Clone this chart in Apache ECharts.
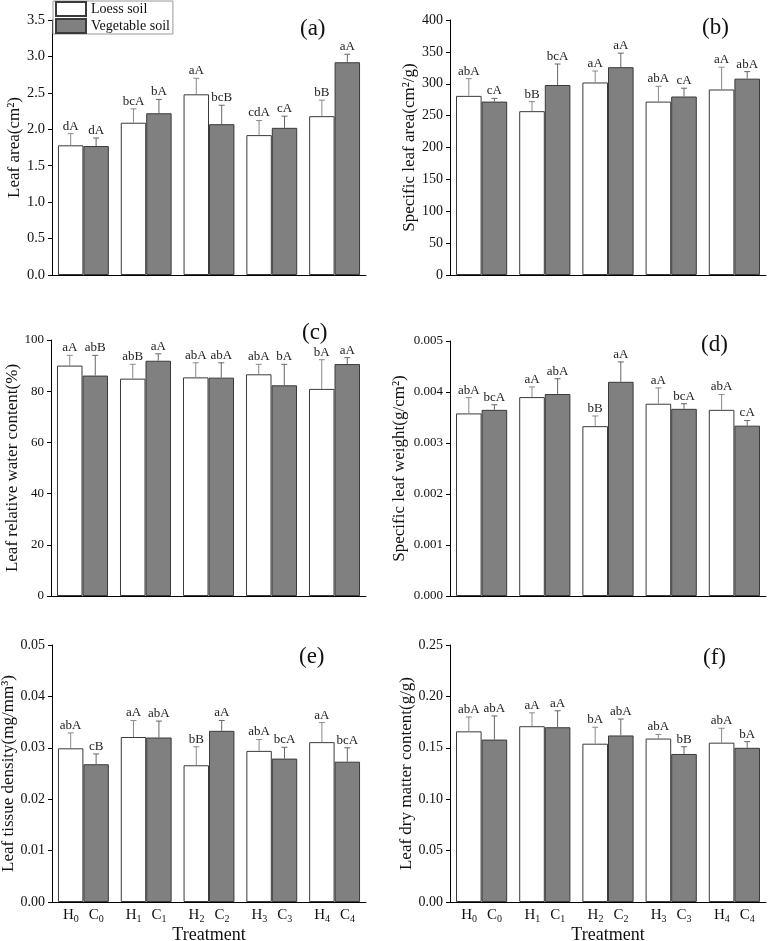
<!DOCTYPE html>
<html>
<head>
<meta charset="utf-8">
<script src="https://cdn.jsdelivr.net/npm/echarts@6/dist/echarts.min.js"></script>
<style>
  html, body { margin: 0; padding: 0; background: #fff; }
  #chart { width: 768px; height: 941px; }
</style>
</head>
<body>
<div id="chart"></div>
<script>
// treatment index (subscript of H / C)
const treatments = ['0', '1', '2', '3', '4']
const soils = ['Loess soil', 'Vegetable soil']

// (a) leaf area
const laLoess = [1.78, 2.09, 2.48, 1.92, 2.18]
const laLoessErr = [0.16, 0.19, 0.22, 0.20, 0.22]
const laLoessSig = ['dA', 'bcA', 'aA', 'cdA', 'bB']
const laVeg = [1.77, 2.22, 2.07, 2.02, 2.92]
const laVegErr = [0.11, 0.19, 0.26, 0.16, 0.11]
const laVegSig = ['dA', 'bA', 'bcB', 'cA', 'aA']

// (b) specific leaf area
const slaLoess = [281, 257, 302, 272, 291]
const slaLoessErr = [27, 15, 18, 24, 35]
const slaLoessSig = ['abA', 'bB', 'aA', 'abA', 'aA']
const slaVeg = [272, 298, 326, 280, 308]
const slaVegErr = [5, 33, 22, 13, 11]
const slaVegSig = ['cA', 'bcA', 'aA', 'cA', 'abA']

// (c) leaf relative water content
const rwcLoess = [90.0, 84.9, 85.4, 86.6, 80.9]
const rwcLoessErr = [4.0, 5.6, 5.7, 3.9, 11.4]
const rwcLoessSig = ['aA', 'abB', 'abA', 'abA', 'bA']
const rwcVeg = [86.1, 91.9, 85.3, 82.3, 90.6]
const rwcVegErr = [7.9, 2.7, 5.8, 8.2, 2.5]
const rwcVegSig = ['abB', 'aA', 'abA', 'bA', 'aA']

// (d) specific leaf weight
const slwLoess = [0.00358, 0.00390, 0.00333, 0.00377, 0.00365]
const slwLoessErr = [0.00031, 0.00020, 0.00020, 0.00031, 0.00030]
const slwLoessSig = ['abA', 'aA', 'bB', 'aA', 'abA']
const slwVeg = [0.00365, 0.00396, 0.00420, 0.00367, 0.00334]
const slwVegErr = [0.00010, 0.00030, 0.00039, 0.00010, 0.00010]
const slwVegSig = ['bcA', 'abA', 'aA', 'bcA', 'cA']

// (e) leaf tissue density
const ltdLoess = [0.0299, 0.0321, 0.0266, 0.0294, 0.0311]
const ltdLoessErr = [0.0030, 0.0032, 0.0036, 0.0022, 0.0038]
const ltdLoessSig = ['abA', 'aA', 'bB', 'abA', 'aA']
const ltdVeg = [0.0268, 0.0320, 0.0333, 0.0279, 0.0273]
const ltdVegErr = [0.0020, 0.0032, 0.0020, 0.0022, 0.0027]
const ltdVegSig = ['cB', 'abA', 'aA', 'bcA', 'bcA']

// (f) leaf dry matter content
const ldmcLoess = [0.166, 0.171, 0.154, 0.159, 0.155]
const ldmcLoessErr = [0.014, 0.013, 0.016, 0.004, 0.014]
const ldmcLoessSig = ['abA', 'aA', 'bA', 'abA', 'abA']
const ldmcVeg = [0.158, 0.170, 0.162, 0.144, 0.150]
const ldmcVegErr = [0.023, 0.016, 0.016, 0.007, 0.006]
const ldmcVegSig = ['abA', 'aA', 'abA', 'bB', 'bA']

const serif = '"Times New Roman", "Liberation Serif", serif'
const catGap = 0.19

const panels = [
  { tag: '(a)', name: 'Leaf area(cm²)', max: 3.5, step: 0.5, dec: 1, nameGap: 24, fs: 14.5,
    left: 52, top: 20, w: 314, h: 255, lx: 313, ly: 30,
    data: [[laLoess, laLoessErr, laLoessSig], [laVeg, laVegErr, laVegSig]] },
  { tag: '(b)', name: 'Specific leaf area(cm²/g)', max: 400, step: 50, dec: 0, nameGap: 28, fs: 14,
    left: 450, top: 20, w: 316, h: 255, lx: 715, ly: 29,
    data: [[slaLoess, slaLoessErr, slaLoessSig], [slaVeg, slaVegErr, slaVegSig]] },
  { tag: '(c)', name: 'Leaf relative water content(%)', max: 100, step: 20, dec: 0, nameGap: 21, fs: 13,
    left: 51, top: 340, w: 315, h: 256, lx: 315, ly: 334,
    data: [[rwcLoess, rwcLoessErr, rwcLoessSig], [rwcVeg, rwcVegErr, rwcVegSig]] },
  { tag: '(d)', name: 'Specific leaf weight(g/cm²)', max: 0.005, step: 0.001, dec: 3, nameGap: 42, fs: 13,
    left: 450, top: 341, w: 316, h: 255, lx: 714, ly: 346,
    data: [[slwLoess, slwLoessErr, slwLoessSig], [slwVeg, slwVegErr, slwVegSig]] },
  { tag: '(e)', name: 'Leaf tissue density(mg/mm³)', max: 0.05, step: 0.01, dec: 2, nameGap: 31, fs: 14, bottomRow: true,
    left: 52, top: 645, w: 314, h: 257, lx: 312, ly: 658,
    data: [[ltdLoess, ltdLoessErr, ltdLoessSig], [ltdVeg, ltdVegErr, ltdVegSig]] },
  { tag: '(f)', name: 'Leaf dry matter content(g/g)', max: 0.25, step: 0.05, dec: 2, nameGap: 31, fs: 14, bottomRow: true,
    left: 450, top: 645, w: 316, h: 257, lx: 716, ly: 659,
    data: [[ldmcLoess, ldmcLoessErr, ldmcLoessSig], [ldmcVeg, ldmcVegErr, ldmcVegSig]] }
]

const barColors = ['#ffffff', '#808080']
const errColors = ['#8a8a8a', '#666666']

const grid = [], xAxis = [], yAxis = [], series = [], graphic = []

panels.forEach((p, k) => {
  grid.push({ left: p.left, top: p.top, width: p.w, height: p.h, outerBoundsMode: 'none' })
  xAxis.push({
    type: 'category', gridIndex: k, data: treatments,
    axisLine: { lineStyle: { color: '#000', width: 1 } },
    axisTick: { show: false },
    axisLabel: p.bottomRow ? {
      show: true, interval: 0, hideOverlap: false, margin: 4, color: '#111', fontFamily: serif,
      formatter: v => `{n|H}{s|${v}}{g|}{n|C}{s|${v}}`,
      rich: {
        n: { fontSize: 15, lineHeight: 18, fontFamily: serif, color: '#111' },
        s: { fontSize: 10, lineHeight: 10, verticalAlign: 'bottom', fontFamily: serif, color: '#111' },
        g: { width: 10 }
      }
    } : { show: false },
    name: p.bottomRow ? 'Treatment' : '',
    nameLocation: 'middle', nameGap: 24, nameMoveOverlap: false,
    nameTextStyle: { fontSize: 18, fontFamily: serif, color: '#111' }
  })
  yAxis.push({
    type: 'value', gridIndex: k, min: 0, max: p.max, interval: p.step,
    splitLine: { show: false },
    axisLine: { show: true, lineStyle: { color: '#000', width: 1 } },
    axisTick: { show: true, length: 4, lineStyle: { color: '#000' } },
    axisLabel: { fontSize: p.fs, margin: 7, color: '#111', fontFamily: serif,
      formatter: v => v.toFixed(p.dec) },
    name: p.name, nameLocation: 'middle', nameRotate: 90, nameGap: p.nameGap,
    nameTextStyle: { fontSize: 17, fontFamily: serif, color: '#111' }
  })
  p.data.forEach((d, s) => {
    const [vals, errs, sigs] = d
    series.push({
      type: 'bar', name: soils[s], xAxisIndex: k, yAxisIndex: k,
      data: vals, barGap: '0%', barCategoryGap: (catGap * 100) + '%',
      itemStyle: { color: barColors[s], borderColor: '#3a3a3a', borderWidth: 1 },
      emphasis: { disabled: true }, animation: false
    })
    series.push({
      type: 'custom', xAxisIndex: k, yAxisIndex: k, z: 5, animation: false,
      data: vals.map((v, i) => [i, v, errs[i]]),
      renderItem: (params, api) => {
        const i = api.value(0), v = api.value(1), e = api.value(2)
        const base = api.coord([i, v])
        const band = api.size([1, 0])[0]
        const bw = band * (1 - catGap) / 2
        const cx = base[0] + (s === 0 ? -bw / 2 : bw / 2)
        const topY = api.coord([i, v + e])[1]
        const st = { stroke: errColors[s], lineWidth: 1 }
        return {
          type: 'group',
          children: [
            { type: 'line', shape: { x1: cx, y1: base[1], x2: cx, y2: topY }, style: st },
            { type: 'line', shape: { x1: cx - 3, y1: topY, x2: cx + 3, y2: topY }, style: st },
            { type: 'text', x: cx, y: topY - 1,
              style: { text: sigs[params.dataIndex], fontSize: 13, fontFamily: serif,
                fill: '#222', align: 'center', verticalAlign: 'bottom' } }
          ]
        }
      }
    })
  })
  graphic.push({
    type: 'text', left: p.lx - 13, top: p.ly - 13, z: 10,
    style: { text: p.tag, fontSize: 23, fontFamily: serif, fill: '#111' }
  })
})

const chart = echarts.init(document.getElementById('chart'))
chart.setOption({
  backgroundColor: '#fff',
  animation: false,
  legend: {
    data: soils, orient: 'vertical', left: 53, top: 1, z: 20,
    itemWidth: 30, itemHeight: 14, itemGap: 1,
    padding: [0, 3, 0, 2], backgroundColor: '#fff',
    borderColor: '#999', borderWidth: 1,
    textStyle: { fontSize: 14, lineHeight: 14, fontFamily: serif, color: '#111' },
    icon: 'rect'
  },
  grid, xAxis, yAxis, series, graphic
})
</script>
</body>
</html>
